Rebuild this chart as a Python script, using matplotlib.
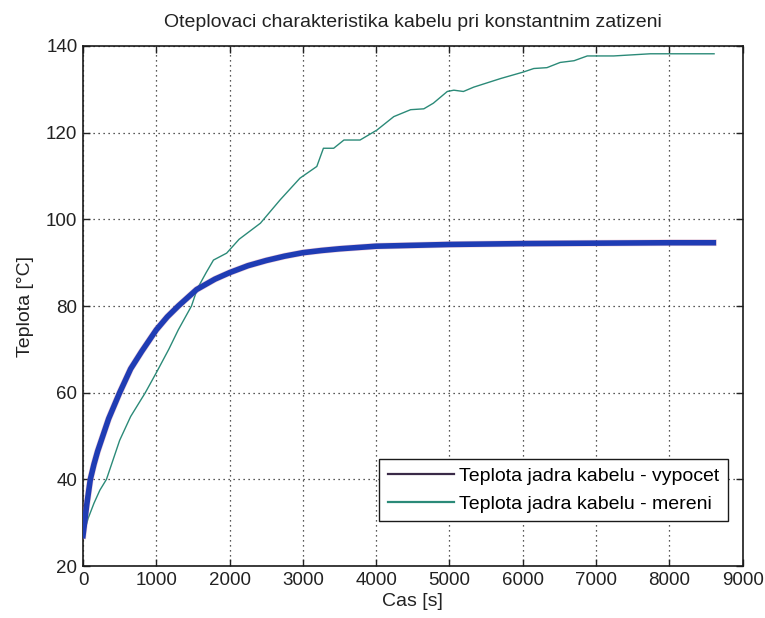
import matplotlib
matplotlib.use("Agg")
import matplotlib.pyplot as plt
from matplotlib.lines import Line2D

plt.rcParams['font.family'] = ['Liberation Sans', 'DejaVu Sans']

# Calculated core temperature (vypocet)
t_calc = [0, 50, 100, 150, 200, 250, 350, 500, 650, 800, 900, 1000, 1150,
          1300, 1550, 1800, 2000, 2250, 2500, 2750, 3000, 3250, 3500, 3750,
          4000, 4500, 5000, 6000, 7000, 8000, 8600]
y_calc = [27, 34, 40, 43.5, 46.5, 49, 54, 60, 65.5, 69.5, 72, 74.5, 77.5,
          80, 83.8, 86.2, 87.7, 89.3, 90.5, 91.5, 92.3, 92.8, 93.2, 93.5,
          93.8, 94.0, 94.2, 94.4, 94.5, 94.6, 94.6]

# Measured core temperature (mereni)
t_meas = [0, 70, 150, 230, 320, 400, 500, 650, 850, 1000, 1170, 1300, 1480,
          1560, 1680, 1780, 1960, 2130, 2420, 2690, 2960, 3190, 3280, 3420,
          3560, 3780, 4010, 4240, 4470, 4650, 4780, 4970, 5060, 5190, 5330,
          5700, 6010, 6150, 6330, 6510, 6700, 6880, 7240, 7740, 8610]
y_meas = [27, 31, 34.5, 37.5, 40, 44, 49, 54.5, 60, 64.6, 70, 74.5, 80,
          84, 87.7, 90.6, 92.2, 95.4, 99.1, 104.5, 109.5, 112.2, 116.4, 116.4,
          118.3, 118.3, 120.6, 123.7, 125.3, 125.5, 126.8, 129.5, 129.8, 129.5, 130.5,
          132.5, 134, 134.8, 135, 136.2, 136.6, 137.7, 137.7, 138.2, 138.2]

labels = ['Teplota jadra kabelu - vypocet', 'Teplota jadra kabelu - mereni']
title = 'Oteplovaci charakteristika kabelu pri konstantnim zatizeni'
xticks = [0, 1000, 2000, 3000, 4000, 5000, 6000, 7000, 8000, 9000]
yticks = [20, 40, 60, 80, 100, 120, 140]

fig = plt.figure(figsize=(7.65, 6.18), dpi=100)
ax = fig.add_axes([0.1085, 0.0841, 0.9708 - 0.1085, 0.9256 - 0.0841])

green = '#2b8a78'
blue = '#1f3cb4'
ax.plot(t_meas, y_meas, color=green, lw=1.0, zorder=3)
ax.plot(t_calc, y_calc, color='#d07090', lw=4.8, alpha=0.35, zorder=3,
        solid_joinstyle='round')
ax.plot(t_calc, y_calc, color=blue, lw=4.0, zorder=4, solid_joinstyle='round')

ax.set_xlim(0, 9000)
ax.set_ylim(20, 140)
ax.set_xticks(xticks)
ax.set_yticks(yticks)
ax.grid(True, linestyle=(0, (1, 3)), color='#222222', linewidth=0.9)
ax.tick_params(direction='in', top=True, right=True, length=5, width=1.0,
               labelsize=13.5, colors='#222222', pad=4)
for s in ax.spines.values():
    s.set_color('#1a1a1a')
    s.set_linewidth(1.2)

ax.set_title(title, fontsize=14, color='#222222', pad=14)
ax.set_xlabel('Cas [s]', fontsize=14, color='#222222', labelpad=3)
ax.set_ylabel('Teplota [°C]', fontsize=14, color='#222222', labelpad=9)

handles = [Line2D([], [], color='#3a2a48', lw=1.6),
           Line2D([], [], color=green, lw=1.6)]
leg = ax.legend(handles, labels, loc='lower right', bbox_to_anchor=(0.978, 0.086),
                fontsize=14, frameon=True, fancybox=False, borderpad=0.45,
                handlelength=3.4, handletextpad=0.25, labelspacing=0.5,
                borderaxespad=0)
leg.get_frame().set_edgecolor('#1a1a1a')
leg.get_frame().set_linewidth(1.0)
leg.get_frame().set_alpha(1.0)

fig.savefig('out.png', dpi=100)
